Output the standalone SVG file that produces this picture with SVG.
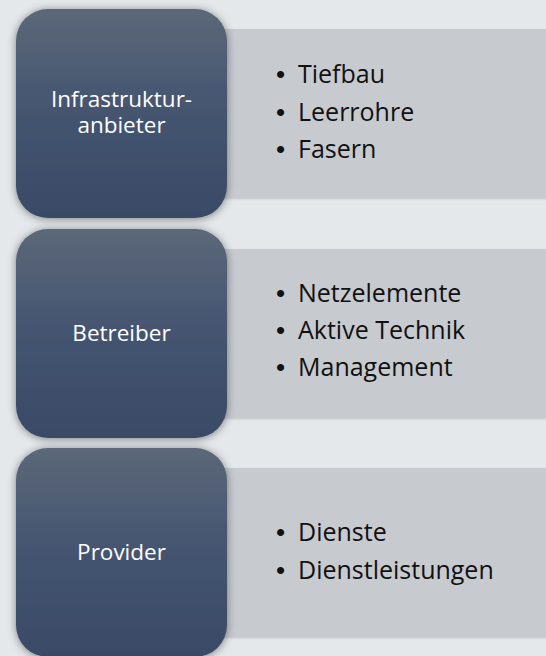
<svg xmlns="http://www.w3.org/2000/svg" width="546" height="656" viewBox="0 0 546 656">
<defs>
<linearGradient id="dg" x1="0" y1="0" x2="0" y2="1">
<stop offset="0" stop-color="#5b6879"/>
<stop offset="0.5" stop-color="#445470"/>
<stop offset="1" stop-color="#394a66"/>
</linearGradient>
<filter id="sh" x="-20%" y="-20%" width="140%" height="140%">
<feGaussianBlur in="SourceAlpha" stdDeviation="4"/>
<feOffset dx="0" dy="1" result="b"/>
<feFlood flood-color="#000" flood-opacity="0.45"/>
<feComposite in2="b" operator="in"/>
<feMerge><feMergeNode/><feMergeNode in="SourceGraphic"/></feMerge>
</filter>
<filter id="sh2" x="-10%" y="-10%" width="120%" height="120%">
<feGaussianBlur in="SourceAlpha" stdDeviation="1"/>
<feOffset dx="0" dy="1" result="b"/>
<feFlood flood-color="#000" flood-opacity="0.15"/>
<feComposite in2="b" operator="in"/>
<feMerge><feMergeNode/><feMergeNode in="SourceGraphic"/></feMerge>
</filter>
</defs>
<style>
.dark{fill:url(#dg);filter:url(#sh)}
.light{fill:#c7cacf;filter:url(#sh2)}
.lbl{font-family:"Open Sans","Noto Sans",sans-serif;font-size:22.5px;fill:#ffffff;text-anchor:middle}
.itm{font-family:"Open Sans","Noto Sans",sans-serif;font-size:25px;fill:#111111}
.bul{font-family:"Liberation Sans",Arial,sans-serif;font-size:26px;fill:#111111;text-anchor:middle}
</style>
<rect width="546" height="656" fill="#e4e8eb"/>
<g id="connectors"></g>
<g id="row1">
<rect class="light" x="200" y="29" width="350" height="169" rx="4"/>
<rect class="dark" x="16" y="9" width="211" height="209" rx="32"/>
<text class="lbl" x="121.5" y="107">Infrastruktur-</text>
<text class="lbl" x="121.5" y="133">anbieter</text>
<text class="bul" x="280.5" y="83">•</text><text class="itm" x="298" y="83">Tiefbau</text>
<text class="bul" x="280.5" y="120.5">•</text><text class="itm" x="298" y="120.5">Leerrohre</text>
<text class="bul" x="280.5" y="158">•</text><text class="itm" x="298" y="158">Fasern</text>
</g>
<g id="row2">
<rect class="light" x="200" y="249" width="350" height="169" rx="4"/>
<rect class="dark" x="16" y="229" width="211" height="209" rx="32"/>
<text class="lbl" x="121.5" y="341">Betreiber</text>
<text class="bul" x="280.5" y="302">•</text><text class="itm" x="298" y="302">Netzelemente</text>
<text class="bul" x="280.5" y="339">•</text><text class="itm" x="298" y="339">Aktive Technik</text>
<text class="bul" x="280.5" y="376">•</text><text class="itm" x="298" y="376">Management</text>
</g>
<g id="row3">
<rect class="light" x="200" y="468" width="350" height="169" rx="4"/>
<rect class="dark" x="16" y="448" width="211" height="209" rx="32"/>
<text class="lbl" x="121.5" y="560">Provider</text>
<text class="bul" x="280.5" y="541">•</text><text class="itm" x="298" y="541">Dienste</text>
<text class="bul" x="280.5" y="579">•</text><text class="itm" x="298" y="579">Dienstleistungen</text>
</g>
</svg>
